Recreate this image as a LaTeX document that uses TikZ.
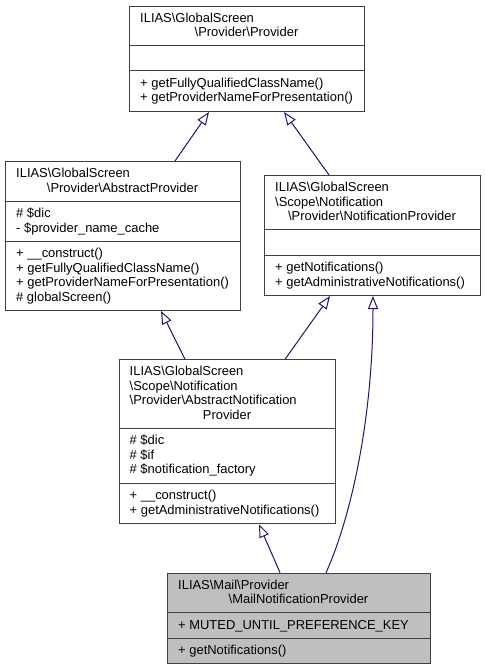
\documentclass[tikz,border=0pt]{standalone}
\usepackage{fontspec}
\setmainfont{Liberation Sans}
\usetikzlibrary{arrows.meta}
\definecolor{boxborder}{HTML}{404040}
\definecolor{edgeblue}{HTML}{191970}
\definecolor{mailfill}{HTML}{BFBFBF}
\tikzset{
  box/.style={draw=boxborder, line width=1bp, rectangle, inner sep=0pt, anchor=north west},
  txt/.style={inner sep=0pt, anchor=base west, font=\fontsize{13}{14.5}\selectfont},
  ctxt/.style={txt, anchor=base},
  sepline/.style={draw=boxborder, line width=1bp},
  inh/.style={draw=edgeblue, line width=1bp, -{Triangle[length=13bp, width=10bp, fill=white]}}
}
\begin{document}
\begin{tikzpicture}[x=1bp, y=-1bp]
\useasboundingbox (0,0) rectangle (485,669);
\fill[white] (0,0) rectangle (485,669);

% ---- Box 1: Provider
\node[box, minimum width=235bp, minimum height=105bp] (b1) at (129,6) {};
\draw[sepline] (129,45.7) -- (364,45.7);
\draw[sepline] (129,71) -- (364,71);
\node[txt] (b1t1) at (140,22.5) {ILIAS\textbackslash GlobalScreen};
\node[ctxt] (b1t2) at (246.5,37) {\textbackslash Provider\textbackslash Provider};
\node[txt] (b1m1) at (140,87.5) {+ getFullyQualifiedClassName()};
\node[txt] (b1m2) at (140,102) {+ getProviderNameForPresentation()};

% ---- Box 2: AbstractProvider
\node[box, minimum width=235bp, minimum height=149bp] (b2) at (5,161) {};
\draw[sepline] (5,201) -- (240,201);
\draw[sepline] (5,241) -- (240,241);
\node[txt] (b2t1) at (16,177.5) {ILIAS\textbackslash GlobalScreen};
\node[ctxt] (b2t2) at (122.5,192) {\textbackslash Provider\textbackslash AbstractProvider};
\node[txt] (b2a1) at (16,217.5) {\# \$dic};
\node[txt] (b2a2) at (16,232) {- \$provider\_name\_cache};
\node[txt] (b2m1) at (16,257.5) {+ \_\_construct()};
\node[txt] (b2m2) at (16,272) {+ getFullyQualifiedClassName()};
\node[txt] (b2m3) at (16,286.5) {+ getProviderNameForPresentation()};
\node[txt] (b2m4) at (16,301) {\# globalScreen()};

% ---- Box 3: NotificationProvider
\node[box, minimum width=216bp, minimum height=120bp] (b3) at (264,175) {};
\draw[sepline] (264,229.5) -- (480,229.5);
\draw[sepline] (264,255.5) -- (480,255.5);
\node[txt] (b3t1) at (275,191.5) {ILIAS\textbackslash GlobalScreen};
\node[txt] (b3t2) at (275,206) {\textbackslash Scope\textbackslash Notification};
\node[ctxt] (b3t3) at (372,220.5) {\textbackslash Provider\textbackslash NotificationProvider};
\node[txt] (b3m1) at (275,271.5) {+ getNotifications()};
\node[txt] (b3m2) at (275,286) {+ getAdministrativeNotifications()};

% ---- Box 4: AbstractNotificationProvider
\node[box, minimum width=216bp, minimum height=164bp] (b4) at (119,359.3) {};
\draw[sepline] (119,428.3) -- (335,428.3);
\draw[sepline] (119,483.3) -- (335,483.3);
\node[txt] (b4t1) at (129.5,375.8) {ILIAS\textbackslash GlobalScreen};
\node[txt] (b4t2) at (129.5,390.3) {\textbackslash Scope\textbackslash Notification};
\node[txt] (b4t3) at (129.5,404.8) {\textbackslash Provider\textbackslash AbstractNotification};
\node[ctxt] (b4t4) at (227,419.3) {Provider};
\node[txt] (b4a1) at (129.5,444.8) {\# \$dic};
\node[txt] (b4a2) at (129.5,459.3) {\# \$if};
\node[txt] (b4a3) at (129.5,473.8) {\# \$notification\_factory};
\node[txt] (b4m1) at (129.5,499.8) {+ \_\_construct()};
\node[txt] (b4m2) at (129.5,514.3) {+ getAdministrativeNotifications()};

% ---- Box 5: MailNotificationProvider
\node[box, fill=mailfill, minimum width=263bp, minimum height=90.6bp] (b5) at (167,572.7) {};
\draw[sepline] (167,612.7) -- (430,612.7);
\draw[sepline] (167,638.3) -- (430,638.3);
\node[txt] (b5t1) at (178,589.2) {ILIAS\textbackslash Mail\textbackslash Provider};
\node[ctxt] (b5t2) at (298.5,603.7) {\textbackslash MailNotificationProvider};
\node[txt] (b5a1) at (178,629.2) {+ MUTED\_UNTIL\_PREFERENCE\_KEY};
\node[txt] (b5m1) at (178,654.7) {+ getNotifications()};

% ---- Inheritance connectors
\draw[inh] ([xshift=170bp]b2.north west) -- ([xshift=80bp]b1.south west);
\draw[inh] ([xshift=65bp]b3.north west) -- ([xshift=155bp]b1.south west);
\draw[inh] ([xshift=66bp]b4.north west) -- ([xshift=156bp]b2.south west);
\draw[inh] ([xshift=166bp]b4.north west) -- ([xshift=66bp]b3.south west);
\draw[inh] ([xshift=113bp]b5.north west) -- ([xshift=140bp]b4.south west);
\draw[inh] ([xshift=159bp]b5.north west) .. controls +(24,-52.7) and +(0,125) .. ([xshift=109bp]b3.south west);
\end{tikzpicture}
\end{document}
